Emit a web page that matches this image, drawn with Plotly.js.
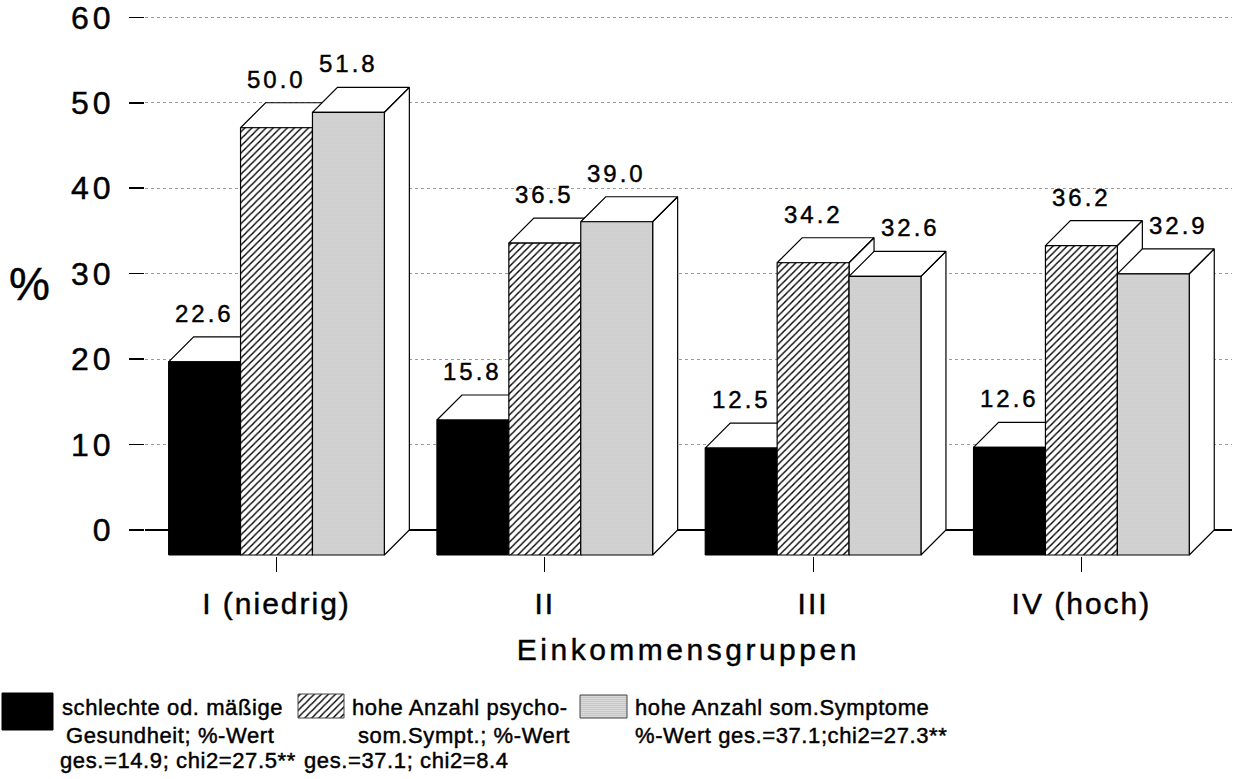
<!DOCTYPE html>
<html><head><meta charset="utf-8">
<script src="https://cdn.plot.ly/plotly-3.0.1.min.js"></script>
<style>
html,body{margin:0;padding:0;background:#fff}
#chart{width:1236px;height:779px}
.ytick text{letter-spacing:4px}
.xtick text{letter-spacing:2px}
.g-xtitle text{letter-spacing:3.5px}
.main-svg text{stroke:#000;stroke-width:0.45px}
</style></head><body><div id="chart"></div>
<script>
// ---------- data ----------
const categories = ['I (niedrig)', 'II', 'III', 'IV (hoch)'];
const schlechteGesundheit = [22.6, 15.8, 12.5, 12.6];
const psychosomatischeSymptome = [50.0, 36.5, 34.2, 36.2];
const somatischeSymptome = [51.8, 39.0, 32.6, 32.9];
const yTickValues = [0, 10, 20, 30, 40, 50, 60];
const legendTexts = [
  ['schlechte od. mäßige', 'Gesundheit; %-Wert', 'ges.=14.9; chi2=27.5**'],
  ['hohe Anzahl psycho-', 'som.Sympt.; %-Wert', 'ges.=37.1; chi2=8.4'],
  ['hohe Anzahl som.Symptome', '%-Wert ges.=37.1;chi2=27.3**']
];
const xTitle = 'Einkommensgruppen';
const yTitle = '%';

// ---------- layout geometry ----------
const W = 1236, H = 779;
const FONT = 'Liberation Sans, Arial, Helvetica, sans-serif';
const X_C0 = 276.5, X_U = 268.3;     // px of first category centre, px per category
const Y_0 = 530, Y_U = 8.545;        // px of y=0, px per unit
const xr = [-0.49, 3.56];
const yr = [-3.05, 60.2];
const xdom = [(X_C0 + xr[0] * X_U) / W, (X_C0 + xr[1] * X_U) / W];
const ydom = [1 - (Y_0 - yr[0] * Y_U) / H, 1 - (Y_0 - yr[1] * Y_U) / H];
const BAR_W = 0.268;
const DEPTH_PX = 25;
const DX = DEPTH_PX / X_U, DY = DEPTH_PX / Y_U;

const series = [schlechteGesundheit, psychosomatischeSymptome, somatischeSymptome];
const faceStyles = [
  {fillcolor: 'black'},
  {fillcolor: 'white', fillpattern: {shape: '/', size: 5, solidity: 0.28, fgcolor: 'black', bgcolor: 'white'}},
  {fillcolor: 'white', fillpattern: {shape: '.', size: 2, solidity: 0.28, fgcolor: '#333333', bgcolor: 'white'}}
];

const traces = [];
const annotations = [];
series.forEach((vals, s) => {
  const off = (s - 1.5) * BAR_W;
  const tx = [], ty = [], fx = [], fy = [];
  vals.forEach((v, i) => {
    const L = i + off, R = L + BAR_W, yt = v - DY, yb = -DY;
    tx.push(R, R + DX, R + DX, R, R, null); ty.push(yb, 0, v, yt, yb, null);      // side
    tx.push(L, R, R + DX, L + DX, L, null); ty.push(yt, yt, v, v, yt, null);       // top
    fx.push(L, R, R, L, L, null); fy.push(yb, yb, yt, yt, yb, null);               // front
    const prev = s > 0 ? series[s - 1][i] : -Infinity;
    annotations.push({
      xref: 'x', yref: 'y', x: L + BAR_W / 2 + (prev > v ? DX : 0), y: v,
      text: '<span style="letter-spacing:3px">' + v.toFixed(1) + '</span>',
      showarrow: false, xanchor: 'center', yanchor: 'bottom', yshift: 8,
      font: {family: FONT, size: 24, color: 'black'}
    });
  });
  traces.push({type: 'scatter', mode: 'lines', x: tx, y: ty, fill: 'toself', fillcolor: 'white',
    line: {color: 'black', width: 1.2}, hoverinfo: 'skip', showlegend: false});
  traces.push(Object.assign({type: 'scatter', mode: 'lines', x: fx, y: fy, fill: 'toself',
    line: {color: 'black', width: 1.2}, hoverinfo: 'skip', showlegend: false}, faceStyles[s]));
});

// ---------- custom legend (pixel coordinates on a hidden axis pair) ----------
const swatches = [[2, 53, 693, 730], [298, 344, 694, 718], [580, 627, 695, 718]];
swatches.forEach((b, s) => {
  traces.push(Object.assign({type: 'scatter', mode: 'lines', xaxis: 'x2', yaxis: 'y2',
    x: [b[0], b[1], b[1], b[0], b[0]], y: [b[2], b[2], b[3], b[3], b[2]], fill: 'toself',
    line: {color: s === 0 ? 'black' : '#444', width: 1}, hoverinfo: 'skip', showlegend: false}, faceStyles[s]));
});
const legendPos = [
  [[60, 707], [64, 735], [58, 760]],
  [[350, 707], [356, 735], [302, 760]],
  [[633, 707], [633, 735]]
];
legendTexts.forEach((lines, s) => lines.forEach((t, j) => {
  annotations.push({xref: 'paper', yref: 'paper', x: legendPos[s][j][0] / W, y: 1 - legendPos[s][j][1] / H,
    text: '<span style="letter-spacing:0.6px">' + t + '</span>', showarrow: false, xanchor: 'left', yanchor: 'middle',
    font: {family: FONT, size: 22, color: 'black'}});
}));
annotations.push({xref: 'paper', yref: 'paper', x: 29 / W, y: 1 - 284 / H, text: yTitle, showarrow: false,
  xanchor: 'center', yanchor: 'middle', font: {family: FONT, size: 46, color: 'black'}});

const layout = {
  width: W, height: H, margin: {l: 0, r: 0, t: 0, b: 0},
  paper_bgcolor: 'white', plot_bgcolor: 'rgba(0,0,0,0)', showlegend: false,
  xaxis: {domain: xdom, range: xr, tickvals: categories.map((c, i) => i), ticktext: categories,
    ticks: 'outside', ticklen: 15, tickwidth: 1.2, tickcolor: 'black', showgrid: false, zeroline: false,
    showline: false, tickfont: {family: FONT, size: 30, color: 'black'}, ticklabelstandoff: 6,
    title: {text: xTitle, font: {family: FONT, size: 30, color: 'black'}, standoff: 19}, fixedrange: true},
  yaxis: {domain: ydom, range: yr, tickvals: yTickValues, ticks: 'outside', ticklen: 15, tickwidth: 1.5,
    tickcolor: 'black', showgrid: true, gridcolor: '#9a9a9a', griddash: 'dot', gridwidth: 1,
    zeroline: true, zerolinecolor: 'black', zerolinewidth: 1.2, showline: false, ticklabeloverflow: 'allow',
    tickfont: {family: FONT, size: 32, color: 'black'}, ticklabelstandoff: 8, fixedrange: true},
  xaxis2: {domain: [0, 1], range: [0, W], visible: false, anchor: 'y2', fixedrange: true},
  yaxis2: {domain: [0, 117 / H], range: [H, H - 117], visible: false, anchor: 'x2', fixedrange: true},
  annotations: annotations
};
Plotly.newPlot('chart', traces, layout, {staticPlot: true, displayModeBar: false});
</script></body></html>
